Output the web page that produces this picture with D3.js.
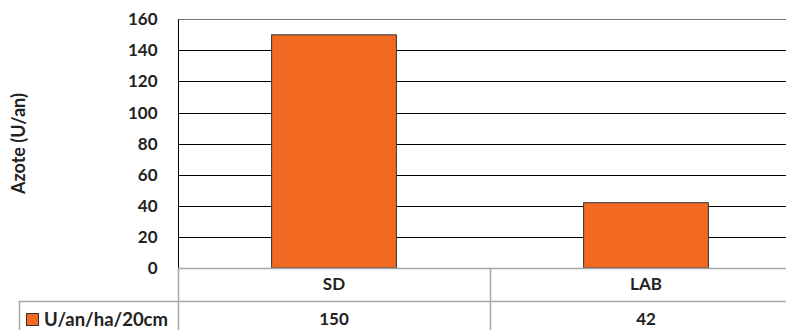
<!DOCTYPE html>
<html>
<head>
<meta charset="utf-8">
<script src="https://cdn.jsdelivr.net/npm/d3@7/dist/d3.min.js"></script>
<style>
  html, body { margin: 0; padding: 0; background: #fff; }
  svg { display: block; font-family: Lato, "Open Sans", sans-serif; }
</style>
</head>
<body>
<svg id="chart" width="786" height="330"></svg>
<script>
// Nitrogen per plot type
const categories = ["SD", "LAB"];
const values = [150, 42];
const seriesName = "U/an/ha/20cm";
const yTicks = [0, 20, 40, 60, 80, 100, 120, 140, 160];
const yTitle = "Azote (U/an)";

const svg = d3.select("#chart");
const W = 786;
const plotLeft = 178, plotRight = 802, plotTop = 19.3, plotBottom = 268;
const tableLeft = 19, rowMid = 301, tableBottom = 340;
const barColor = "#f26922";
const tableStroke = "#a6a6a6";

const x = d3.scaleBand().domain(categories).range([plotLeft, plotRight]).paddingInner(0).paddingOuter(0);
const y = d3.scaleLinear().domain([0, 160]).range([plotBottom, plotTop]);
const barW = x.bandwidth() * 0.4;

// Gridlines
svg.append("g")
  .selectAll("line")
  .data(yTicks.filter(d => d > 0))
  .join("line")
  .attr("x1", plotLeft).attr("x2", plotRight)
  .attr("y1", d => Math.round(y(d)) + 0.5).attr("y2", d => Math.round(y(d)) + 0.5)
  .attr("stroke", d => d === 160 ? "#777" : "#000")
  .attr("stroke-width", 1);

// Y axis
const yAxis = d3.axisLeft(y).tickValues(yTicks).tickSize(0).tickPadding(21);
const gy = svg.append("g").attr("transform", `translate(${plotLeft + 0.5},0)`).call(yAxis);
gy.select(".domain").remove();
gy.selectAll("text")
  .attr("font-size", 17).attr("font-weight", 700).attr("fill", "#222")
  .attr("font-family", "Lato, sans-serif");
svg.append("line")
  .attr("x1", plotLeft + 0.5).attr("x2", plotLeft + 0.5)
  .attr("y1", y(160)).attr("y2", plotBottom)
  .attr("stroke", "#000");

// Bars
svg.append("g")
  .selectAll("rect")
  .data(categories.map((c, i) => ({ c, v: values[i] })))
  .join("rect")
  .attr("x", d => x(d.c) + (x.bandwidth() - barW) / 2)
  .attr("y", d => y(d.v))
  .attr("width", barW)
  .attr("height", d => plotBottom - y(d.v))
  .attr("fill", barColor)
  .attr("stroke", "#333")
  .attr("stroke-width", 1);

// Y axis title
svg.append("text")
  .attr("transform", `translate(25,${(plotTop + plotBottom) / 2}) rotate(-90)`)
  .attr("text-anchor", "middle")
  .attr("font-size", 18).attr("font-weight", 700).attr("fill", "#222")
  .text(yTitle);

// Data table
const tg = svg.append("g").attr("stroke", tableStroke).attr("stroke-width", 1.5).attr("fill", "none");
tg.append("line").attr("x1", plotLeft).attr("x2", W).attr("y1", plotBottom + 0.5).attr("y2", plotBottom + 0.5);
tg.append("line").attr("x1", tableLeft).attr("x2", W).attr("y1", rowMid + 0.5).attr("y2", rowMid + 0.5);
tg.append("line").attr("x1", tableLeft + 0.5).attr("x2", tableLeft + 0.5).attr("y1", rowMid).attr("y2", tableBottom);
tg.selectAll("line.div")
  .data(categories)
  .join("line")
  .attr("class", "div")
  .attr("x1", d => x(d) + 0.5).attr("x2", d => x(d) + 0.5)
  .attr("y1", plotBottom).attr("y2", tableBottom);

// Category row
svg.append("g")
  .selectAll("text")
  .data(categories)
  .join("text")
  .attr("x", d => x(d) + x.bandwidth() / 2)
  .attr("y", 290)
  .attr("text-anchor", "middle")
  .attr("font-size", 17).attr("font-weight", 700).attr("fill", "#222")
  .text(d => d);

// Value row
svg.append("g")
  .selectAll("text")
  .data(categories.map((c, i) => ({ c, v: values[i] })))
  .join("text")
  .attr("x", d => x(d.c) + x.bandwidth() / 2)
  .attr("y", 325)
  .attr("text-anchor", "middle")
  .attr("font-size", 17).attr("font-weight", 700).attr("fill", "#222")
  .text(d => d.v);

// Legend key in table
svg.append("rect")
  .attr("x", 26.5).attr("y", 313.5).attr("width", 12).attr("height", 12)
  .attr("fill", barColor).attr("stroke", "#333");
svg.append("text")
  .attr("x", 44).attr("y", 326)
  .attr("font-size", 18.5).attr("font-weight", 700).attr("fill", "#222")
  .text(seriesName);
</script>
</body>
</html>
